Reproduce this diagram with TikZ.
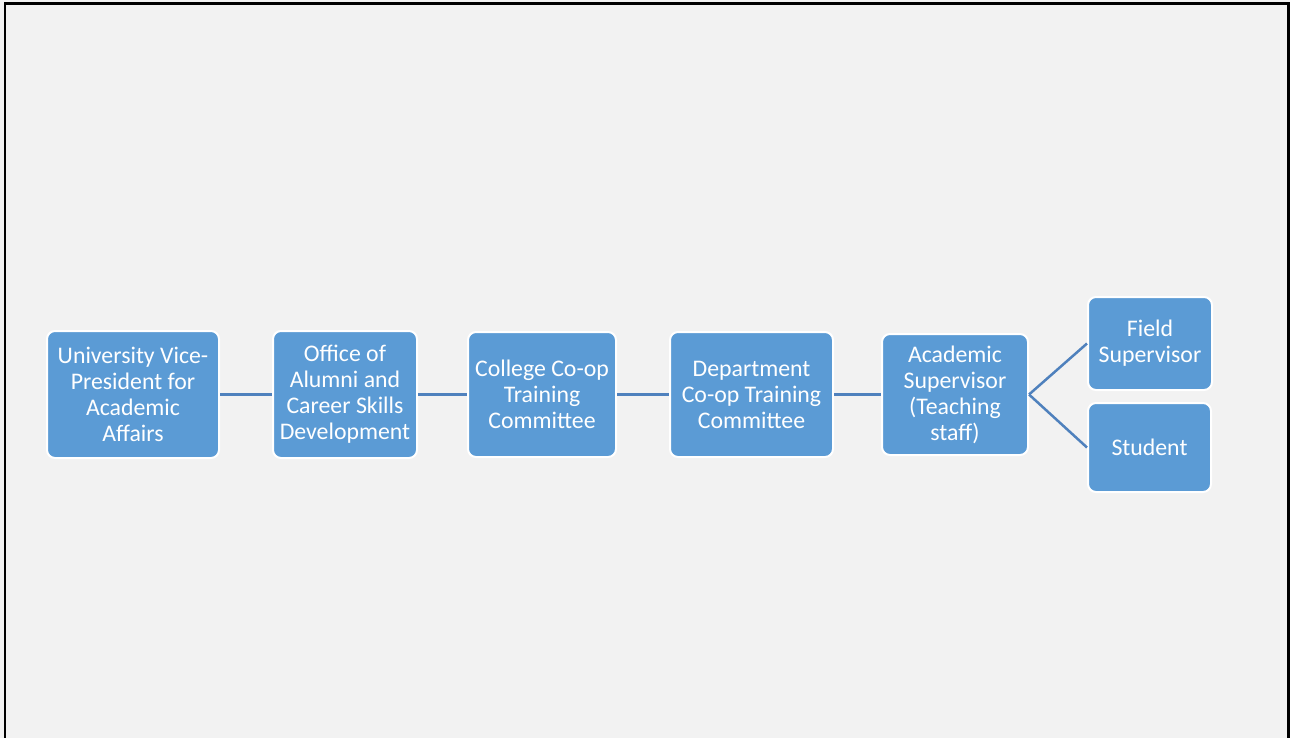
\documentclass[tikz,border=0pt]{standalone}
\usepackage{fontspec}
\setmainfont{Carlito}
\definecolor{boxblue}{RGB}{91,155,213}
\definecolor{linkblue}{RGB}{79,129,189}
\definecolor{bggray}{RGB}{242,242,242}
\begin{document}
\begin{tikzpicture}[x=1pt,y=-1pt,
  orgbox/.style={rectangle, rounded corners=8pt, fill=boxblue, draw=white, line width=2pt,
    text=white, align=center, inner sep=0pt,
    font=\fontsize{23.8}{26}\selectfont},
  link/.style={draw=linkblue, line width=2.5pt}]
\useasboundingbox (0,0) rectangle (1290,738);
\fill[bggray] (0,0) rectangle (1290,738);
\draw[black, line width=2.6pt] (5,750) -- (5,3.5) -- (1288.5,3.5) -- (1288.5,750);
\node[orgbox, minimum width=172pt, minimum height=127pt] (vp) at (133,394.5) {University Vice-\\President for\\Academic\\Affairs};
\node[orgbox, minimum width=144pt, minimum height=127pt] (office) at (345,394.5) {Office of\\Alumni and\\Career Skills\\Development};
\node[orgbox, minimum width=148pt, minimum height=125pt] (college) at (542,394.5) {College Co-op\\Training\\Committee};
\node[orgbox, minimum width=163pt, minimum height=125pt] (dept) at (751.5,394.5) {Department\\Co-op Training\\Committee};
\node[orgbox, minimum width=146pt, minimum height=121pt] (acad) at (955,394.5) {Academic\\Supervisor\\(Teaching\\staff)};
\node[orgbox, minimum width=124pt, minimum height=93pt] (field) at (1150,343.5) {Field\\Supervisor};
\node[orgbox, minimum width=123pt, minimum height=89pt] (student) at (1149.5,447.5) {Student};
\draw[link] (vp.east) -- (office.west);
\draw[link] (office.east) -- (college.west);
\draw[link] (college.east) -- (dept.west);
\draw[link] (dept.east) -- (acad.west);
\draw[link] (acad.east) -- (field.west);
\draw[link] (acad.east) -- (student.west);
\end{tikzpicture}
\end{document}
